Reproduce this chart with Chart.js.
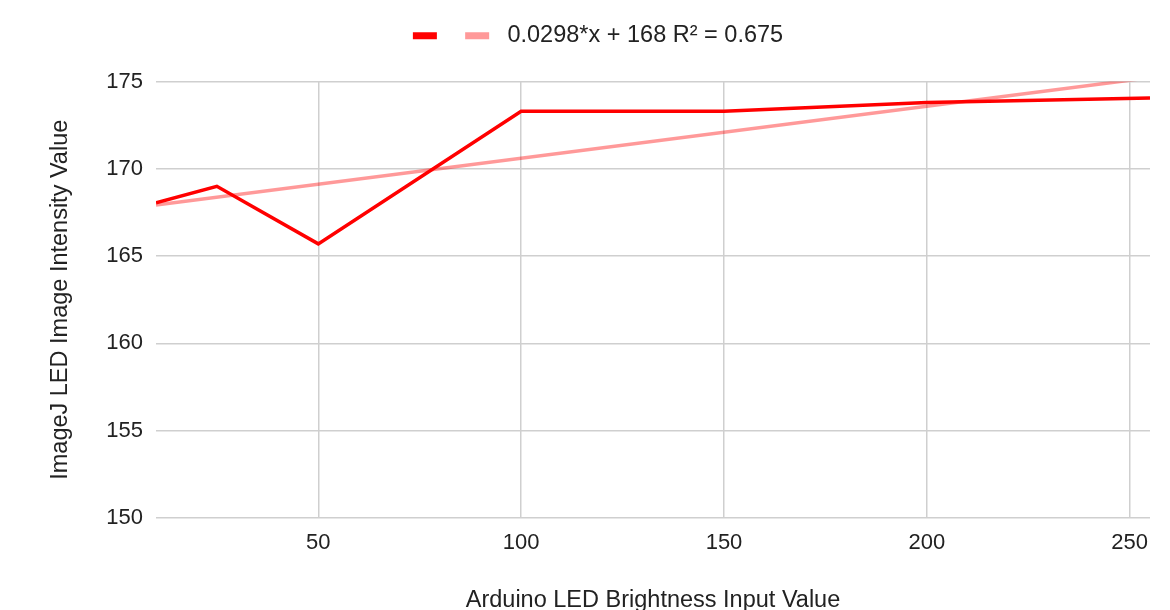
<!DOCTYPE html>
<html>
<head>
<meta charset="utf-8">
<script src="https://cdn.jsdelivr.net/npm/chart.js@4/dist/chart.umd.min.js"></script>
<style>
  html, body { margin: 0; padding: 0; background: #ffffff; }
  #wrap { width: 1170px; height: 610px; }
</style>
</head>
<body>
<div id="wrap"><canvas id="c" width="1170" height="610"></canvas></div>
<script>
// Brightness input (0-255) vs measured ImageJ intensity
const brightness = [10, 25, 50, 100, 150, 200, 255];
const intensity = [168.05, 169.0, 165.7, 173.3, 173.3, 173.8, 174.05];

// Linear trendline endpoints (0.0298*x + 168, R² = 0.675)
const trendX = [10, 255];
const trendY = [167.92, 175.22];
const trendLabel = ' 0.0298*x + 168 R\u00B2 = 0.675';

const xTicks = [50, 100, 150, 200, 250];
const yTicks = [150, 155, 160, 165, 170, 175];

const FONT = '"Liberation Sans", Arial, Helvetica, sans-serif';
const TEXT = '#222222';
const GRID = '#cfcfcf';

const measured = brightness.map((x, i) => ({ x, y: intensity[i] }));
const trend = trendX.map((x, i) => ({ x, y: trendY[i] }));

// Extra room between the legend row and the plot area
const legendGap = {
  id: 'legendGap',
  beforeInit(chart) {
    const legend = chart.legend;
    if (!legend) return;
    const fit = legend.fit;
    legend.fit = function () {
      fit.call(this);
      this.height += 24;
    };
  }
};

new Chart(document.getElementById('c'), {
  type: 'line',
  data: {
    datasets: [
      {
        label: ' ',
        data: measured,
        borderColor: '#ff0000',
        backgroundColor: '#ff0000',
        borderWidth: 3.5,
        pointRadius: 0,
        tension: 0,
        order: 1
      },
      {
        label: trendLabel,
        data: trend,
        borderColor: 'rgba(255,0,0,0.4)',
        backgroundColor: 'rgb(255,153,153)',
        borderWidth: 3.5,
        pointRadius: 0,
        tension: 0,
        order: 2
      }
    ]
  },
  plugins: [legendGap],
  options: {
    responsive: false,
    animation: false,
    layout: { padding: { top: 14, right: 20, left: 46, bottom: 0 } },
    plugins: {
      tooltip: { enabled: false },
      legend: {
        position: 'top',
        labels: {
          boxWidth: 24,
          boxHeight: 7,
          padding: 10,
          color: TEXT,
          font: { family: FONT, size: 23.5 },
          generateLabels(chart) {
            return Chart.defaults.plugins.legend.labels.generateLabels(chart)
              .map(item => Object.assign(item, { lineWidth: 0, strokeStyle: 'transparent' }));
          }
        }
      }
    },
    scales: {
      x: {
        type: 'linear',
        min: 10,
        max: 255,
        afterBuildTicks(scale) { scale.ticks = xTicks.map(v => ({ value: v })); },
        afterFit(scale) { scale.height = 92; },
        border: { display: false },
        grid: { color: GRID, lineWidth: 1.5, drawTicks: false },
        ticks: {
          padding: 12,
          color: TEXT,
          font: { family: FONT, size: 22 }
        },
        title: {
          display: true,
          text: 'Arduino LED Brightness Input Value',
          color: TEXT,
          font: { family: FONT, size: 23.5, lineHeight: 1 },
          padding: { top: 0, bottom: -2 }
        }
      },
      y: {
        min: 150,
        max: 175,
        afterBuildTicks(scale) { scale.ticks = yTicks.map(v => ({ value: v })); },
        afterFit(scale) { scale.width = 110; },
        border: { display: false },
        grid: { color: GRID, lineWidth: 1.5, drawTicks: false },
        ticks: {
          padding: 13,
          color: TEXT,
          font: { family: FONT, size: 22 }
        },
        title: {
          display: true,
          text: 'ImageJ LED Image Intensity Value',
          color: TEXT,
          font: { family: FONT, size: 23.5, lineHeight: 1 },
          padding: { top: 3, bottom: 0 }
        }
      }
    }
  }
});
</script>
</body>
</html>
